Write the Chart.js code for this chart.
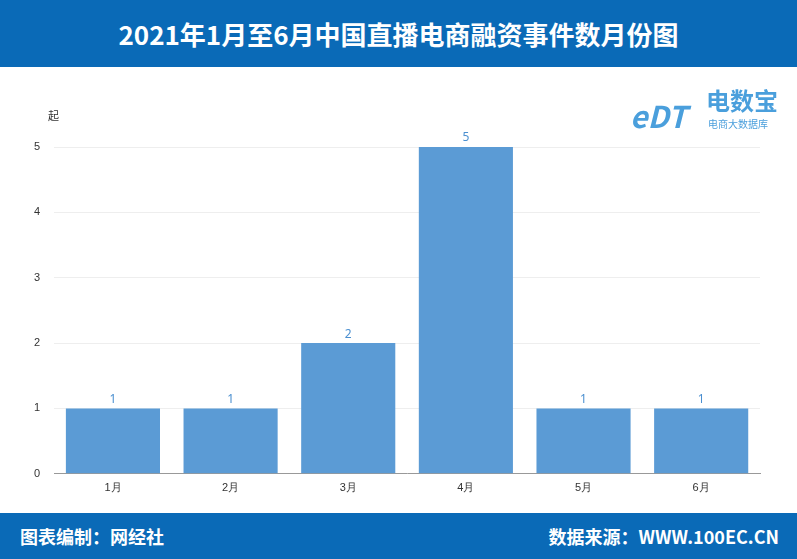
<!DOCTYPE html>
<html><head><meta charset="utf-8">
<script src="https://cdn.jsdelivr.net/npm/chart.js@4"></script>
<style>
body{margin:0;width:797px;height:559px;position:relative;font-family:"Noto Sans CJK SC","Noto Sans",sans-serif;background:#fff;overflow:hidden}
#hd{position:absolute;left:0;top:0;width:797px;height:67px;background:#0a6ab7;color:#fff;font-size:26px;font-weight:bold;text-align:center;line-height:67px}
#ft{position:absolute;left:0;top:513px;width:797px;height:46px;background:#0a6ab7;color:#fff;font-size:18px;font-weight:bold;line-height:46px}
#ft .l{position:absolute;left:20px}#ft .r{position:absolute;right:18px}
#cw{position:absolute;left:0;top:67px;width:797px;height:446px}
#unit{position:absolute;left:48px;top:107px;font-size:11px;color:#333}
#logo{position:absolute;left:630px;top:78px;color:#4a9fdc;font-weight:bold}
</style></head><body>
<div id="hd">2021年1月至6月中国直播电商融资事件数月份图</div>
<div id="cw"><canvas id="c"></canvas></div>
<div id="unit">起</div>
<div id="logo"><span style="font-size:30px;position:absolute;left:0;top:15px;font-style:italic">eDT</span><span style="font-size:24px;position:absolute;left:76px;top:4px;white-space:nowrap">电数宝</span><span style="font-size:10px;position:absolute;left:78px;top:38px;white-space:nowrap;font-weight:normal">电商大数据库</span></div>
<div id="ft"><span class="l">图表编制：网经社</span><span class="r">数据来源：WWW.100EC.CN</span></div>
<script>
const categories=["1月","2月","3月","4月","5月","6月"];
const values=[1,1,2,5,1,1];
const yTicks=[0,1,2,3,4,5];
const labelPlugin={id:'lbl',afterDatasetsDraw(ch){const ctx=ch.ctx;const m=ch.getDatasetMeta(0);ctx.save();ctx.fillStyle='#4a8fd0';ctx.font='12px "Noto Sans"';ctx.textAlign='center';ctx.textBaseline='bottom';m.data.forEach((b,i)=>ctx.fillText(values[i],b.x,b.y-3));ctx.restore();}};
new Chart(document.getElementById('c'),{type:'bar',data:{labels:categories,datasets:[{data:values,backgroundColor:'#5b9bd5',categoryPercentage:0.8,barPercentage:1}]},
options:{responsive:true,maintainAspectRatio:false,animation:false,layout:{padding:{left:20,right:37,top:80,bottom:18}},
plugins:{legend:{display:false},tooltip:{enabled:false}},
scales:{x:{grid:{display:false},border:{color:'#999'},ticks:{color:'#333',font:{size:11},padding:0}},
y:{min:0,max:5,afterBuildTicks(a){a.ticks=yTicks.map(v=>({value:v}));},grid:{color:'#eee',drawTicks:false},border:{display:false},ticks:{color:'#333',font:{size:11},padding:14}}}},plugins:[labelPlugin]});
</script></body></html>
